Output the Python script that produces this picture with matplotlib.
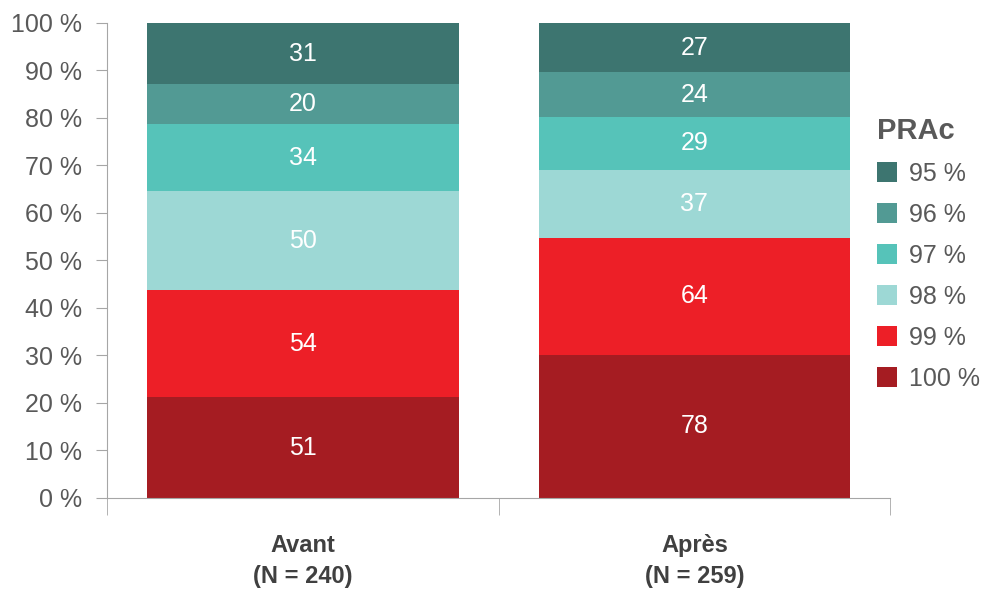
import numpy as np
import matplotlib.pyplot as plt

plt.rcParams['font.family'] = ['Liberation Sans', 'DejaVu Sans']

groups = ["Avant\n(N = 240)", "Après\n(N = 259)"]
prac_levels = ["100 %", "99 %", "98 %", "97 %", "96 %", "95 %"]
# patient counts per PRAc level, bottom (100 %) to top (95 %)
avant = [51, 54, 50, 34, 20, 31]
apres = [78, 64, 37, 29, 24, 27]
colors = ["#A51C22", "#ED1F27", "#9DD8D5", "#56C3B9", "#529A94", "#3D7570"]

counts = np.array([avant, apres], dtype=float)
pct = counts / counts.sum(axis=1, keepdims=True) * 100

grey = "#595959"
fig = plt.figure(figsize=(9.83, 5.89), dpi=100)
ax = fig.add_axes([0.109, 0.1545, 0.7965, 0.8065])

x = np.arange(len(groups))
bottom = np.zeros(len(groups))
handles = []
for i, lvl in enumerate(prac_levels):
    bars = ax.bar(x, pct[:, i], 0.795, bottom=bottom, color=colors[i], label=lvl)
    handles.append(bars)
    for j in range(len(groups)):
        ax.text(x[j], bottom[j] + pct[j, i] / 2, f"{int(counts[j, i])}",
                ha="center", va="center", color="white", fontsize=18)
    bottom += pct[:, i]

ax.set_xlim(-0.5, 1.5)
ax.set_ylim(0, 100)
ax.set_yticks(np.arange(0, 101, 10))
ax.set_yticklabels([f"{v} %" for v in range(0, 101, 10)])
ax.set_xticks(x)
ax.set_xticklabels(groups, fontweight="bold", fontsize=17, color="#404040",
                   linespacing=1.42)
ax.set_xticks([-0.5, 0.5, 1.5], minor=True)
ax.tick_params(axis="x", which="major", length=0, pad=26)
ax.tick_params(axis="x", which="minor", length=12, color="#A6A6A6")
ax.tick_params(axis="y", length=8, color="#A6A6A6", labelsize=18,
               labelcolor=grey, pad=10)
for s in ["top", "right"]:
    ax.spines[s].set_visible(False)
for s in ["left", "bottom"]:
    ax.spines[s].set_color("#A6A6A6")

leg = ax.legend(handles[::-1], prac_levels[::-1], title="PRAc",
                loc="upper left", bbox_to_anchor=(0.955, 0.85),
                frameon=False, fontsize=18, handlelength=0.8,
                handleheight=0.8, labelspacing=0.68, handletextpad=0.45)
leg._legend_box.align = "left"
leg.get_title().set_fontweight("bold")
leg.get_title().set_fontsize(21)
leg.get_title().set_color(grey)
for t in leg.get_texts():
    t.set_color(grey)

fig.savefig("out.png", dpi=100)
